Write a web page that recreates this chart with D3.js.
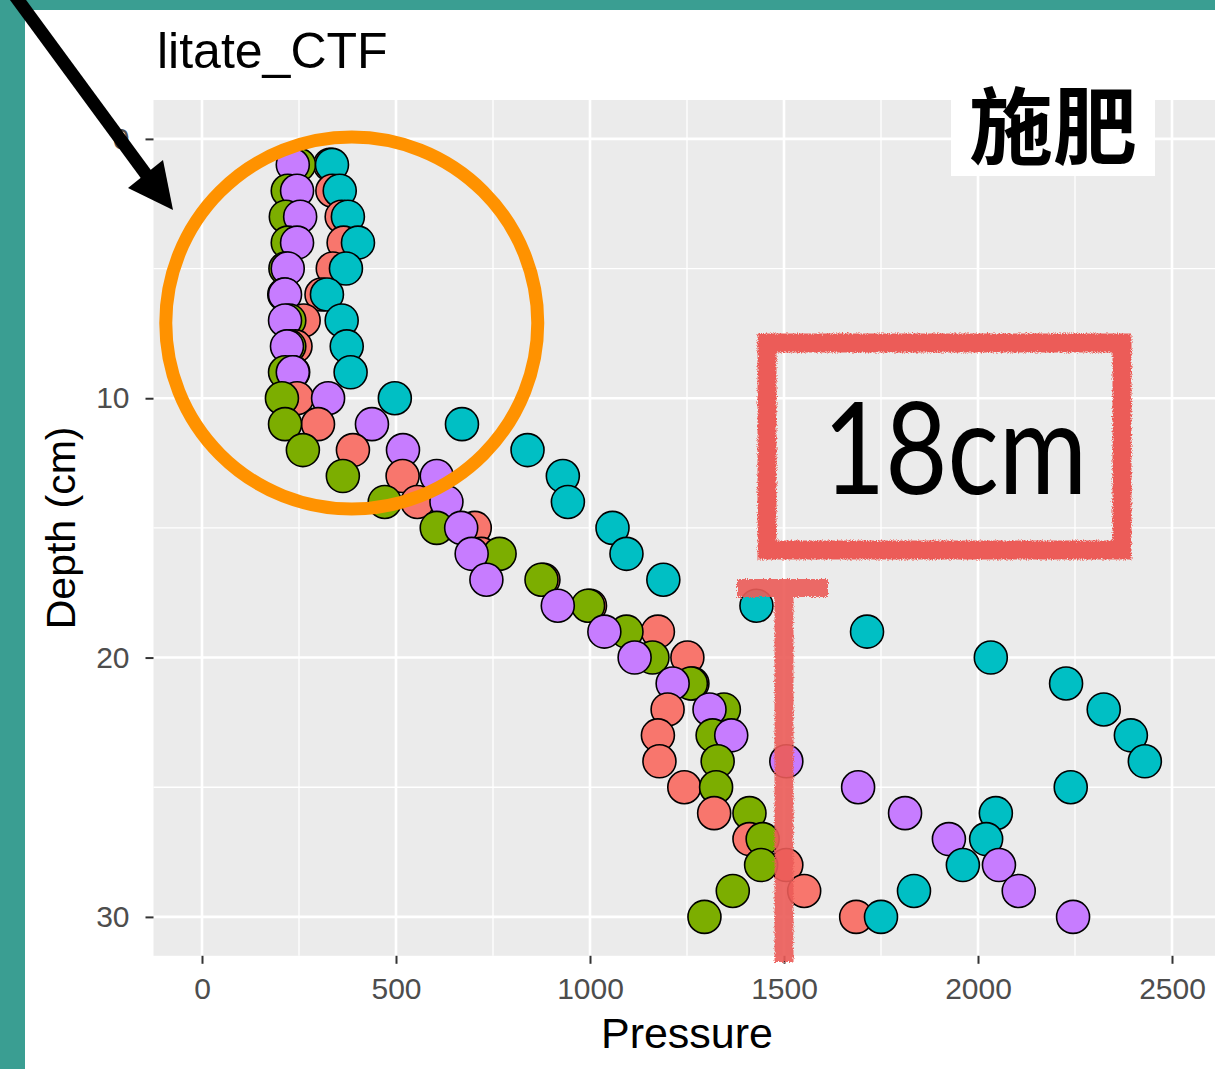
<!doctype html>
<html>
<head>
<meta charset="utf-8">
<title>litate_CTF</title>
<script src="https://cdn.jsdelivr.net/npm/d3@7"></script>
<style>
  body { margin: 0; background: #3a9e92; }
  svg { display: block; }
</style>
</head>
<body>
<svg id="chart" width="1215" height="1069"></svg>
<script>
// depth of each reading (cm)
var depths = [1, 2, 3, 4, 5, 6, 7, 8, 9, 10, 11, 12, 13, 14, 15,
              16, 17, 18, 19, 20, 21, 22, 23, 24, 25, 26, 27, 28, 29, 30];

// pressure per plot
var plotA = [330, 336, 360, 365, 337, 308, 262, 241, 235, 245, 299, 389, 517, 555, 703,
             720, 880, 1000, 1175, 1251, 1264, 1200, 1175, 1179, 1243, 1320, 1411, 1506, 1552, 1686];
var plotB = [250, 221, 216, 221, 215, 212, 225, 225, 214, 206, 214, 260, 363, 471, 605,
             767, 875, 995, 1094, 1161, 1260, 1345, 1316, 1329, 1325, 1411, 1445, 1441, 1368, 1295];
var plotC = [335, 355, 376, 402, 371, 322, 360, 373, 383, 497, 670, 839, 930, 943, 1058,
             1094, 1189, 1429, 1714, 2033, 2227, 2324, 2394, 2430, 2239, 2046, 2021, 1961, 1835, 1750];
var plotD = [234, 245, 253, 245, 221, 214, 214, 219, 234, 325, 438, 518, 605, 630, 668,
             695, 733, 917, 1037, 1115, 1213, 1308, 1364, 1506, 1691, 1812, 1925, 2054, 2105, 2245];

var seriesNames = ["A", "B", "C", "D"];
var seriesColors = ["#F8766D", "#7CAE00", "#00BFC4", "#C77CFF"];

var xTicks = [0, 500, 1000, 1500, 2000, 2500];
var xMinor = [250, 750, 1250, 1750, 2250];
var yTicks = [0, 10, 20, 30];
var yMinor = [5, 15, 25];

var svg = d3.select("#chart");

// teal backdrop and white sheet
svg.append("rect").attr("width", 1215).attr("height", 1069).attr("fill", "#3a9e92");
svg.append("rect").attr("x", 25).attr("y", 10).attr("width", 1190).attr("height", 1059).attr("fill", "#ffffff");

var defs = svg.append("defs");
var chalk = defs.append("filter").attr("id", "chalk")
  .attr("x", "-5%").attr("y", "-5%").attr("width", "110%").attr("height", "110%");
chalk.append("feTurbulence").attr("type", "fractalNoise").attr("baseFrequency", 0.8)
  .attr("numOctaves", 2).attr("result", "noise");
chalk.append("feDisplacementMap").attr("in", "SourceGraphic").attr("in2", "noise")
  .attr("scale", 5).attr("xChannelSelector", "R").attr("yChannelSelector", "G");

var x = d3.scaleLinear().domain([-125, 2625]).range([153.5, 1220.5]);
var y = d3.scaleLinear().domain([-1.5, 31.5]).range([100, 955.8]);

var panelL = x(-125), panelR = x(2625), panelT = y(-1.5), panelB = y(31.5);

svg.append("rect")
  .attr("x", panelL).attr("y", panelT)
  .attr("width", panelR - panelL).attr("height", panelB - panelT)
  .attr("fill", "#EBEBEB");

// grid
var grid = svg.append("g");
grid.selectAll("line.xmin").data(xMinor).enter().append("line")
  .attr("x1", d => x(d)).attr("x2", d => x(d)).attr("y1", panelT).attr("y2", panelB)
  .attr("stroke", "#fff").attr("stroke-width", 1.3);
grid.selectAll("line.ymin").data(yMinor).enter().append("line")
  .attr("y1", d => y(d)).attr("y2", d => y(d)).attr("x1", panelL).attr("x2", panelR)
  .attr("stroke", "#fff").attr("stroke-width", 1.3);
grid.selectAll("line.xmaj").data(xTicks).enter().append("line")
  .attr("x1", d => x(d)).attr("x2", d => x(d)).attr("y1", panelT).attr("y2", panelB)
  .attr("stroke", "#fff").attr("stroke-width", 2.6);
grid.selectAll("line.ymaj").data(yTicks).enter().append("line")
  .attr("y1", d => y(d)).attr("y2", d => y(d)).attr("x1", panelL).attr("x2", panelR)
  .attr("stroke", "#fff").attr("stroke-width", 2.6);

// axes
var xAxis = svg.append("g").attr("transform", "translate(0," + panelB + ")")
  .call(d3.axisBottom(x).tickValues(xTicks).tickFormat(d3.format("d")).tickSize(8).tickPadding(14));
var yAxis = svg.append("g").attr("transform", "translate(" + panelL + ",0)")
  .call(d3.axisLeft(y).tickValues(yTicks).tickFormat(d3.format("d")).tickSize(8).tickPadding(16));
[xAxis, yAxis].forEach(function(ax) {
  ax.select(".domain").remove();
  ax.selectAll(".tick line").attr("stroke", "#333333").attr("stroke-width", 2);
  ax.selectAll(".tick text").attr("fill", "#4D4D4D")
    .style("font-family", "'Liberation Sans', Arial, sans-serif").style("font-size", "30px");
});

// points, drawn depth by depth like the source data
var allSeries = [plotA, plotB, plotC, plotD];
var pts = [];
depths.forEach(function(dep, i) {
  allSeries.forEach(function(vals, s) {
    pts.push({ depth: dep, pressure: vals[i], series: s });
  });
});

svg.append("g").selectAll("circle").data(pts).enter().append("circle")
  .attr("cx", d => x(d.pressure))
  .attr("cy", d => y(d.depth))
  .attr("r", 16.5)
  .attr("fill", d => seriesColors[d.series])
  .attr("stroke", "#000")
  .attr("stroke-width", 1.6);

// labels
svg.append("text").attr("x", 157).attr("y", 68).text("litate_CTF")
  .style("font-family", "'Liberation Sans', Arial, sans-serif").style("font-size", "50px").attr("fill", "#000");
svg.append("text").attr("x", x(1250)).attr("y", 1048).attr("text-anchor", "middle").text("Pressure")
  .style("font-family", "'Liberation Sans', Arial, sans-serif").style("font-size", "43px").attr("fill", "#000");
svg.append("text").attr("transform", "translate(75," + y(15) + ") rotate(-90)")
  .attr("text-anchor", "middle").text("Depth (cm)")
  .style("font-family", "'Liberation Sans', Arial, sans-serif").style("font-size", "41px").attr("fill", "#000");

// --- hand-drawn annotations ---
// orange ring around the shallow layer
svg.append("circle").attr("cx", x(386)).attr("cy", y(7.1)).attr("r", 186)
  .attr("fill", "none").attr("stroke", "#ff9200").attr("stroke-width", 13);

// black arrow pointing at the ring
svg.append("line").attr("x1", -4).attr("y1", -30).attr("x2", 148).attr("y2", 177)
  .attr("stroke", "#000").attr("stroke-width", 13);
svg.append("path").attr("d", "M128,188 L163,160 L173,210 Z").attr("fill", "#000");

// "施肥" label
svg.append("rect").attr("x", 951).attr("y", 88).attr("width", 204).attr("height", 88).attr("fill", "#fff");
svg.append("text").attr("x", 1053).attr("y", 158).attr("text-anchor", "middle").text("施肥")
  .style("font-family", "'Noto Sans CJK SC', sans-serif").style("font-weight", 700)
  .style("font-size", "84px").attr("fill", "#000");

// red chalk box with 18cm
var chalkRed = "#ec5c58";
svg.append("rect").attr("x", 767).attr("y", 343).attr("width", 355).attr("height", 207)
  .attr("fill", "none").attr("stroke", chalkRed).attr("stroke-width", 19)
  .attr("filter", "url(#chalk)");
svg.append("text").attr("x", 823).attr("y", 494).text("18cm")
  .attr("textLength", 264).attr("lengthAdjust", "spacingAndGlyphs")
  .style("font-family", "Lato, 'Open Sans', sans-serif").style("font-size", "128px").attr("fill", "#000");

// red T marking 1500 below 18 cm
var tee = svg.append("g").attr("filter", "url(#chalk)").attr("opacity", 0.9);
tee.append("line").attr("x1", 737).attr("x2", 828).attr("y1", 588).attr("y2", 588)
  .attr("stroke", chalkRed).attr("stroke-width", 18);
tee.append("line").attr("x1", x(1500)).attr("x2", x(1500)).attr("y1", 588).attr("y2", 962)
  .attr("stroke", chalkRed).attr("stroke-width", 19);
</script>
</body>
</html>
